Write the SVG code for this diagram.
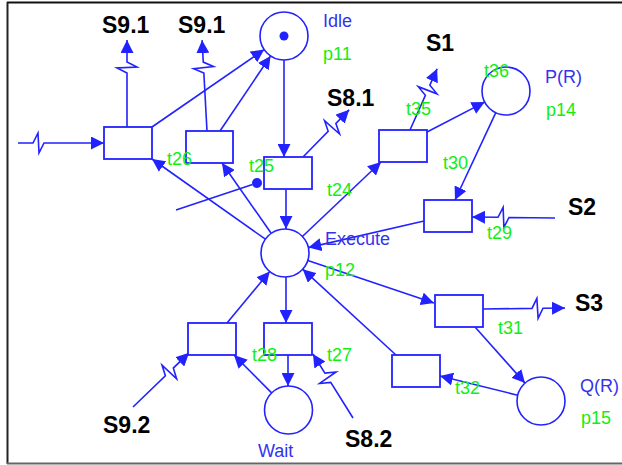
<svg xmlns="http://www.w3.org/2000/svg" width="622" height="465" viewBox="0 0 622 465">
<defs>
<marker id="arr" viewBox="0 0 13 13" refX="13" refY="6.5" markerWidth="13" markerHeight="13" markerUnits="userSpaceOnUse" orient="auto">
<path d="M0,0 L13,6.5 L0,13 z" fill="#2222ff"/>
</marker>
<style>
.pl{fill:#fff;stroke:#2222ff;stroke-width:1.6}
.tr{fill:#fff;stroke:#2222ff;stroke-width:1.8}
.arc{fill:none;stroke:#2222ff;stroke-width:1.6;marker-end:url(#arr)}
.ln{fill:none;stroke:#2222ff;stroke-width:1.6}
.g{font-family:"Liberation Sans",Arial,sans-serif;font-size:18px;fill:#11ee11}
.b{font-family:"Liberation Sans",Arial,sans-serif;font-size:18px;fill:#3333ee}
.k{font-family:"Liberation Sans",Arial,sans-serif;font-size:23px;font-weight:bold;fill:#000}
</style>
</defs>
<rect width="622" height="465" fill="#fff"/>
<g id="frame">
<line x1="7" y1="2.5" x2="622" y2="2.5" stroke="#111" stroke-width="2"/>
<line x1="7.5" y1="2" x2="7.5" y2="464" stroke="#222" stroke-width="2"/>
<line x1="7" y1="463.5" x2="622" y2="463.5" stroke="#666" stroke-width="2"/>
</g>
<g id="connectors">
<path class="arc" transform="translate(18,143)" d="M0,0 H15 l5,-10 l1,20 l5,-10 H86"/>
<path class="arc" transform="translate(127,127) rotate(-90)" d="M0,0 H54 l5,-10 l1,20 l5,-10 H87"/>
<path class="arc" transform="translate(207,131) rotate(-93.1)" d="M0,0 H58 l5,-10 l1,20 l5,-10 H91"/>
<path class="arc" transform="translate(303,157) rotate(-45.6)" d="M0,0 H36 l5,-10 l1,20 l5,-10 H66"/>
<path class="arc" transform="translate(410,130) rotate(-66.1)" d="M0,0 H38 l5,-10 l1,20 l5,-10 H67"/>
<path class="arc" transform="translate(555,218) rotate(180.7)" d="M0,0 H46 l5,-10 l1,20 l5,-10 H83"/>
<path class="arc" transform="translate(483,309) rotate(-0.7)" d="M0,0 H49 l5,-10 l1,20 l5,-10 H82"/>
<path class="arc" transform="translate(133,407) rotate(-44)" d="M0,0 H45 l5,-10 l1,20 l5,-10 H78"/>
<path class="arc" transform="translate(353,418) rotate(-122)" d="M0,0 H42 l5,-10 l1,20 l5,-10 H75.5"/>
<path class="arc" d="M152,127 L264.2,49.6"/>
<path class="arc" d="M220,131 L270.6,55.9"/>
<path class="arc" d="M284,60 L284,157"/>
<path class="arc" d="M286,189 L286,229"/>
<path class="arc" d="M265.4,239.2 L152,159"/>
<path class="arc" d="M271.2,233.3 L222,163"/>
<path class="arc" d="M302.4,236.5 L381,162"/>
<path class="arc" d="M427,132 L484.7,102.1"/>
<path class="arc" d="M495.8,112.7 L455,200"/>
<path class="arc" d="M424,221 L308.4,247.6"/>
<path class="arc" d="M307.8,260.6 L434,303"/>
<path class="arc" d="M475,327 L525,383.1"/>
<path class="arc" d="M517.7,395.2 L440,376"/>
<path class="arc" d="M396,355 L302.7,269.2"/>
<path class="arc" d="M227,323 L269.7,271.5"/>
<path class="arc" d="M286,277 L286,323"/>
<path class="arc" d="M288,355 L288,386"/>
<path class="arc" d="M271.6,392.9 L234,355"/>
<path class="ln" d="M176,210 L252.5,184.5"/>
<circle cx="257" cy="183" r="5" fill="#2222ff"/>
</g>
<g id="p11">
<circle class="pl" cx="284" cy="36" r="24"/>
<circle cx="284" cy="36" r="4.5" fill="#2222ff"/>
<text class="b" x="323" y="27">Idle</text>
<text class="g" x="323" y="60">p11</text>
</g>
<g id="p12">
<circle class="pl" cx="285" cy="253" r="24"/>
<text class="b" x="325" y="245">Execute</text>
<text class="g" x="325" y="276">p12</text>
</g>
<g id="p14">
<circle class="pl" cx="506" cy="91" r="24"/>
<text class="b" x="545" y="83">P(R)</text>
<text class="g" x="546" y="116">p14</text>
</g>
<g id="p15">
<circle class="pl" cx="541" cy="401" r="24"/>
<text class="b" x="580" y="392">Q(R)</text>
<text class="g" x="581" y="424">p15</text>
</g>
<g id="wait">
<circle class="pl" cx="288.5" cy="410" r="24"/>
<text class="b" x="258" y="457">Wait</text>
</g>
<g id="t_s91b">
<rect class="tr" x="186" y="131" width="47" height="32"/>
</g>
<g id="t26">
<rect class="tr" x="104" y="127" width="48" height="32"/>
<text class="g" x="167" y="165">t26</text>
</g>
<g id="t25">
<rect class="tr" x="264" y="157" width="48" height="32"/>
<text class="g" x="249" y="172">t25</text>
</g>
<g id="t24">
<rect class="tr" x="379" y="130" width="48" height="32"/>
<text class="g" x="327" y="196">t24</text>
<text class="g" x="406" y="115">t35</text>
</g>
<g id="t36lbl">
<text class="g" x="484" y="77">t36</text>
</g>
<g id="t30lbl">
<text class="g" x="443" y="169">t30</text>
</g>
<g id="t29">
<rect class="tr" x="424" y="200" width="48" height="32"/>
<text class="g" x="487" y="239">t29</text>
</g>
<g id="t31">
<rect class="tr" x="435" y="295" width="48" height="32"/>
<text class="g" x="498" y="334">t31</text>
</g>
<g id="t32">
<rect class="tr" x="392" y="355" width="48" height="32"/>
<text class="g" x="455" y="394">t32</text>
</g>
<g id="t_s92">
<rect class="tr" x="188" y="323" width="48" height="32"/>
</g>
<g id="t28">
<rect class="tr" x="264" y="323" width="48" height="32"/>
<text class="g" x="252" y="361">t28</text>
<text class="g" x="327" y="361">t27</text>
</g>
<g id="signals">
<text class="k" x="102" y="33">S9.1</text>
<text class="k" x="178" y="33">S9.1</text>
<text class="k" x="327" y="106">S8.1</text>
<text class="k" x="426" y="51">S1</text>
<text class="k" x="568" y="215">S2</text>
<text class="k" x="575" y="311">S3</text>
<text class="k" x="103" y="433">S9.2</text>
<text class="k" x="345" y="447">S8.2</text>
</g>
</svg>
